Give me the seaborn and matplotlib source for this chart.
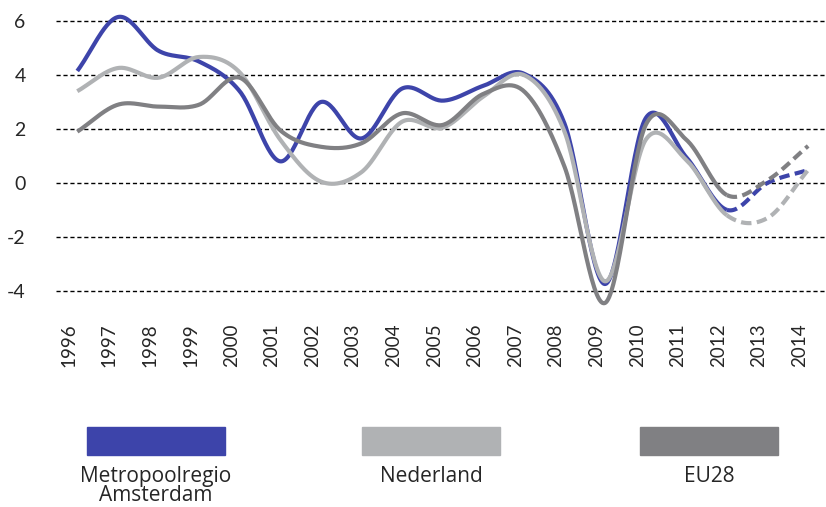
import numpy as np
import pandas as pd
import matplotlib
matplotlib.use('Agg')
import matplotlib.pyplot as plt
from matplotlib.patches import Rectangle
import seaborn as sns

jaren = list(range(1996, 2015))
metropoolregio = [4.15, 6.15, 4.9, 4.5, 3.4, 0.8, 3.0, 1.65, 3.5, 3.05, 3.6, 4.05, 2.2,
                  -3.75, 2.4, 0.95, -1.0, 0.0, 0.48]
nederland = [3.4, 4.26, 3.9, 4.67, 4.1, 1.6, 0.05, 0.4, 2.27, 2.05, 3.2, 4.0, 1.9,
             -3.65, 1.6, 0.85, -1.2, -1.3, 0.48]
eu28 = [1.9, 2.9, 2.83, 2.9, 3.9, 1.95, 1.34, 1.47, 2.58, 2.15, 3.3, 3.4, 0.6,
        -4.45, 2.15, 1.6, -0.45, 0.1, 1.37]
reeksen = ['Metropoolregio\nAmsterdam', 'Nederland', 'EU28']
kleuren = ['#3d44aa', '#b0b2b4', '#808083']
laatste_echt = 2012  # daarna prognose (gestippeld)


def glad(x, y, n=30):
    # Catmull-Rom, zoals de 'vloeiende lijn' in Excel
    x = np.asarray(x, float)
    y = np.asarray(y, float)
    m = np.gradient(y, x)
    xs, ys = [], []
    for i in range(len(x) - 1):
        h = x[i + 1] - x[i]
        t = np.linspace(0, 1, n, endpoint=False)
        h00 = 2 * t**3 - 3 * t**2 + 1
        h10 = t**3 - 2 * t**2 + t
        h01 = -2 * t**3 + 3 * t**2
        h11 = t**3 - t**2
        xs.append(x[i] + t * h)
        ys.append(h00 * y[i] + h10 * h * m[i] + h01 * y[i + 1] + h11 * h * m[i + 1])
    xs.append([x[-1]])
    ys.append([y[-1]])
    return np.concatenate(xs), np.concatenate(ys)


sns.set_style('white')
plt.rcParams['font.family'] = ['Lato', 'DejaVu Sans']

fig = plt.figure(figsize=(8.26, 5.07), dpi=100)
ax = fig.add_axes([0.068, 0.3945, 0.932, 0.5905])

for waarden, kleur in zip([metropoolregio, nederland, eu28], kleuren):
    gx, gy = glad(jaren, waarden)
    df = pd.DataFrame({'jaar': gx, 'waarde': gy})
    echt = df[df['jaar'] <= laatste_echt]
    prog = df[df['jaar'] >= laatste_echt]
    sns.lineplot(data=echt, x='jaar', y='waarde', color=kleur, lw=3, ax=ax,
                 solid_capstyle='butt')
    sns.lineplot(data=prog, x='jaar', y='waarde', color=kleur, lw=3, ax=ax,
                 linestyle=(0, (2.5, 1.3)))

ax.set_xlim(1995.48, 2014.44)
ax.set_ylim(-4.6, 6.5)
ax.set_yticks([-4, -2, 0, 2, 4, 6])
ax.set_yticklabels(['-4', '-2', '0', '2', '4', '6'], fontsize=14)
ax.set_xticks(jaren)
ax.set_xticklabels([str(j) for j in jaren], rotation=90, fontsize=13.5)
ax.tick_params(axis='x', pad=12, length=0)
ax.tick_params(axis='y', pad=22, length=0)
for t in ax.get_xticklabels():
    t.set_ha('right')
ax.yaxis.grid(True, color='black', lw=1, linestyle=(0, (3, 2)))
ax.xaxis.grid(False)
ax.set_xlabel('')
ax.set_ylabel('')
sns.despine(ax=ax, left=True, bottom=True)

# legenda onderaan
W, H = 826, 507
posities = [87, 362, 640]
for x0, kleur, naam in zip(posities, kleuren, reeksen):
    fig.add_artist(Rectangle((x0 / W, 1 - 455 / H), 138 / W, 28 / H,
                             transform=fig.transFigure, color=kleur))
    fig.text((x0 + 69) / W, 1 - 466 / H, naam, ha='center', va='top',
             fontsize=15, linespacing=0.88, family=['Open Sans', 'DejaVu Sans'])

fig.savefig('out.png', dpi=100)
